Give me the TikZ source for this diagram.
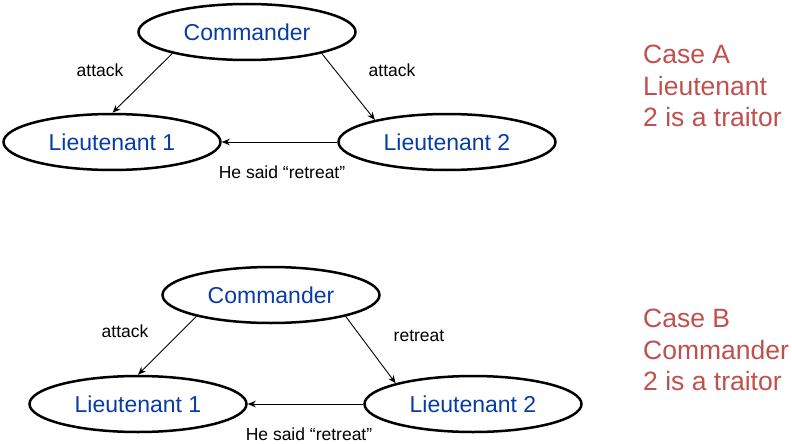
\documentclass[tikz,border=0pt]{standalone}
\usepackage{fontspec}
\setmainfont{Liberation Sans}
\usetikzlibrary{shapes.geometric, arrows.meta}
\definecolor{rankblue}{HTML}{083CA5}
\definecolor{casered}{HTML}{C0504D}
\tikzset{
	>={Stealth[length=8pt, width=6.5pt]},
	x=1pt, y=-1pt,
	officer/.style={ellipse, draw, line width=2.5pt, minimum width=217pt, minimum height=56pt, inner sep=0pt, text=rankblue, font=\fontsize{23}{27}\selectfont},
	order/.style={anchor=base, inner sep=0pt, font=\fontsize{17.5}{21}\selectfont},
	verdict/.style={anchor=north west, inner sep=0pt, align=left, text=casered, font=\fontsize{26.5}{31.5}\selectfont},
	msg/.style={->, line width=0.9pt},
}
\begin{document}
\begin{tikzpicture}
	\useasboundingbox (0,0) rectangle (792,444);
	% case A
	\node[officer] (CMDA) at (247,32) {Commander};
	\node[officer] (LTA1) at (112,142) {Lieutenant 1};
	\node[officer] (LTA2) at (447,142) {Lieutenant 2};
	\node[order] (t0) at (100,76) {attack};
	\node[order] (t1) at (392,77) {attack};
	\node[order] (t2) at (282,178) {He said “retreat”};
	\node[verdict] (caseA) at (643,45) {Case A\\Lieutenant\\2 is a traitor};
	
	\draw[msg] (CMDA.196) -- (LTA1.89);
	\draw[msg] (CMDA.344) -- (LTA2.163);
	\draw[msg] (LTA2) -- (LTA1);
	
	% case B
	\node[officer] (CMDB) at (271,295) {Commander};
	\node[officer] (LTB1) at (138,404) {Lieutenant 1};
	\node[officer] (LTB2) at (473,404) {Lieutenant 2};
	\node[order] (t3) at (125,337) {attack};
	\node[order] (t4) at (419,341) {retreat};
	\node[order] (t5) at (309,440) {He said “retreat”};
	\node[verdict] (caseB) at (643,309) {Case B\\Commander\\2 is a traitor};
	
	\draw[msg] (CMDB.196) -- (LTB1.90);
	\draw[msg] (CMDB.344) -- (LTB2.165);
	\draw[msg] (LTB2) -- (LTB1);
\end{tikzpicture}
\end{document}
